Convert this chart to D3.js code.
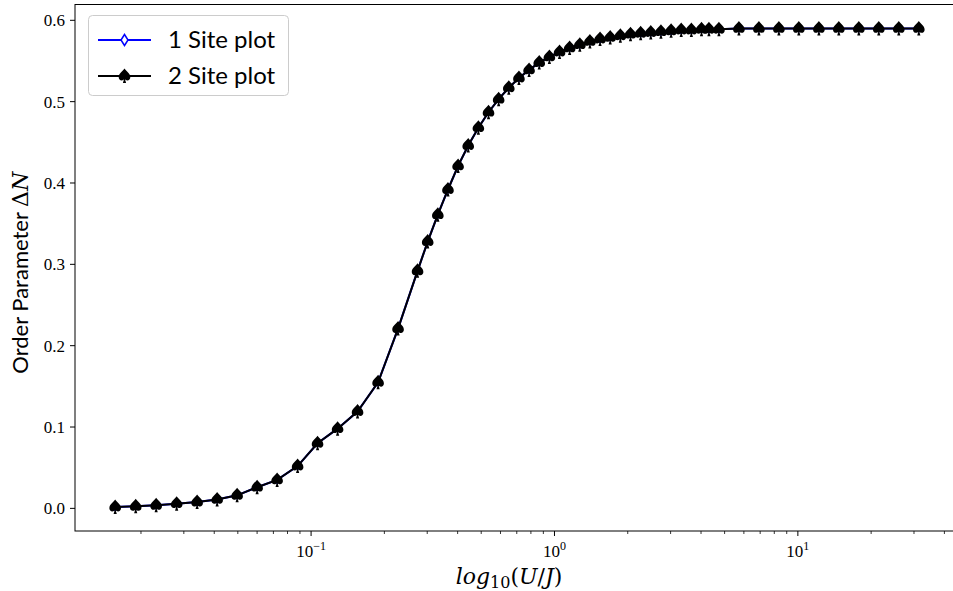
<!DOCTYPE html>
<html>
<head>
<meta charset="utf-8">
<script src="https://cdn.jsdelivr.net/npm/d3@7"></script>
<style>
  body { margin: 0; background: #fff; }
  svg { display: block; }
  .tick-label { font-family: "Liberation Serif", "DejaVu Serif", serif; font-size: 17px; fill: #000; }
  .legend-text { font-family: Lato, "DejaVu Sans", sans-serif; font-size: 24px; fill: #000; }
  .axis-title { font-family: Lato, "DejaVu Sans", sans-serif; font-size: 22px; fill: #000; }
  .math { font-family: "DejaVu Serif", "Liberation Serif", serif; }
</style>
</head>
<body>
<div id="chart"></div>
<script>
'use strict';

// U/J values
const ujValues = [
  0.01567, 0.01903, 0.02309, 0.02803, 0.03402, 0.04111, 0.04967, 0.06002,
  0.07252, 0.08803, 0.1063, 0.1285, 0.1552, 0.1885, 0.2277,
  0.2738, 0.3014, 0.3317, 0.3651, 0.4018, 0.4422, 0.4868, 0.5358,
  0.5897, 0.6491, 0.7145, 0.7864, 0.8657, 0.9530, 1.049, 1.154,
  1.271, 1.398, 1.539, 1.694, 1.865, 2.053, 2.260, 2.487,
  2.738, 3.014, 3.317, 3.651, 4.019, 4.311, 4.738,
  5.725, 6.917, 8.356, 10.09, 12.20, 14.73, 17.80, 21.50, 25.98, 31.40
];

// order parameter, 1 site calculation
const oneSiteValues = [
  0.0016, 0.0025, 0.0037, 0.0058, 0.0077, 0.011, 0.016, 0.026,
  0.035, 0.052, 0.080, 0.098, 0.119, 0.155, 0.221,
  0.292, 0.328, 0.361, 0.392, 0.421, 0.446, 0.468, 0.487,
  0.503, 0.517, 0.529, 0.539, 0.548, 0.555, 0.561, 0.566,
  0.570, 0.574, 0.577, 0.579, 0.581, 0.583, 0.584, 0.585,
  0.586, 0.587, 0.588, 0.588, 0.589, 0.589, 0.589,
  0.590, 0.590, 0.590, 0.590, 0.590, 0.590, 0.590, 0.590, 0.590, 0.590
];

// order parameter, 2 site calculation (lies on top of the 1 site curve)
const twoSiteValues = [
  0.0016, 0.0025, 0.0037, 0.0058, 0.0077, 0.011, 0.016, 0.026,
  0.035, 0.052, 0.080, 0.098, 0.119, 0.155, 0.221,
  0.292, 0.328, 0.361, 0.392, 0.421, 0.446, 0.468, 0.487,
  0.503, 0.517, 0.529, 0.539, 0.548, 0.555, 0.561, 0.566,
  0.570, 0.574, 0.577, 0.579, 0.581, 0.583, 0.584, 0.585,
  0.586, 0.587, 0.588, 0.588, 0.589, 0.589, 0.589,
  0.590, 0.590, 0.590, 0.590, 0.590, 0.590, 0.590, 0.590, 0.590, 0.590
];

const seriesNames = ['1 Site plot', '2 Site plot'];
const seriesColors = ['#0000ff', '#000000'];
const yTickValues = [0.0, 0.1, 0.2, 0.3, 0.4, 0.5, 0.6];
const xTickExponents = [-1, 0, 1];

const svgWidth = 953, svgHeight = 591;
const plot = { left: 75, top: 4.5, right: 959, bottom: 531 };

const svg = d3.select('#chart')
  .append('svg')
    .attr('width', svgWidth)
    .attr('height', svgHeight);

// matplotlib style 5% margins (log space for x)
const logExt = d3.extent(ujValues).map(Math.log10);
const logPad = (logExt[1] - logExt[0]) * 0.05;
const yAll = oneSiteValues.concat(twoSiteValues);
const yExt = d3.extent(yAll);
const yPad = (yExt[1] - yExt[0]) * 0.05;

const x = d3.scaleLog()
  .domain([Math.pow(10, logExt[0] - logPad), Math.pow(10, logExt[1] + logPad)])
  .range([plot.left, plot.right]);
const y = d3.scaleLinear()
  .domain([yExt[0] - yPad, yExt[1] + yPad])
  .range([plot.bottom, plot.top]);

// frame
svg.append('rect')
  .attr('x', plot.left).attr('y', plot.top)
  .attr('width', plot.right - plot.left).attr('height', plot.bottom - plot.top)
  .attr('fill', 'none').attr('stroke', '#000').attr('stroke-width', 1);

// y axis
const yAxis = svg.append('g').attr('transform', `translate(${plot.left},0)`);
yAxis.selectAll('line')
  .data(yTickValues).enter().append('line')
    .attr('x1', -5).attr('x2', 0)
    .attr('y1', d => y(d)).attr('y2', d => y(d))
    .attr('stroke', '#000').attr('stroke-width', 1);
yAxis.selectAll('text')
  .data(yTickValues).enter().append('text')
    .attr('class', 'tick-label')
    .attr('x', -10).attr('y', d => y(d))
    .attr('dy', '0.35em')
    .attr('text-anchor', 'end')
    .text(d => d.toFixed(1));

// x axis, major and minor ticks
const [xMin, xMax] = x.domain();
const minorTicks = [];
for (let e = -2; e <= 1; e++) {
  for (let m = 2; m <= 9; m++) {
    const v = m * Math.pow(10, e);
    if (v > xMin && v < xMax) minorTicks.push(v);
  }
}
const xAxis = svg.append('g').attr('transform', `translate(0,${plot.bottom})`);
xAxis.selectAll('line.minor')
  .data(minorTicks).enter().append('line')
    .attr('class', 'minor')
    .attr('x1', d => x(d)).attr('x2', d => x(d))
    .attr('y1', 0).attr('y2', 3)
    .attr('stroke', '#000').attr('stroke-width', 0.8);
xAxis.selectAll('line.major')
  .data(xTickExponents).enter().append('line')
    .attr('class', 'major')
    .attr('x1', d => x(Math.pow(10, d))).attr('x2', d => x(Math.pow(10, d)))
    .attr('y1', 0).attr('y2', 5)
    .attr('stroke', '#000').attr('stroke-width', 1);
const xLabels = xAxis.selectAll('text')
  .data(xTickExponents).enter().append('text')
    .attr('class', 'tick-label')
    .attr('x', d => x(Math.pow(10, d)))
    .attr('y', 26)
    .attr('text-anchor', 'middle');
xLabels.append('tspan').text('10');
xLabels.append('tspan')
  .attr('dy', -7).attr('font-size', '12px')
  .text(d => d < 0 ? '\u2212' + Math.abs(d) : String(d));

// axis titles
const xTitle = svg.append('text')
  .attr('class', 'axis-title math')
  .attr('x', x(Math.pow(10, (Math.log10(xMin) + Math.log10(xMax)) / 2)) - 8)
  .attr('y', 584)
  .attr('font-size', '24px')
  .attr('text-anchor', 'middle');
xTitle.append('tspan').attr('font-style', 'italic').text('log');
xTitle.append('tspan').attr('font-size', '16px').attr('dy', 4).text('10');
xTitle.append('tspan').attr('dy', -4).text('(');
xTitle.append('tspan').attr('font-style', 'italic').text('U');
xTitle.append('tspan').text('/');
xTitle.append('tspan').attr('font-style', 'italic').text('J');
xTitle.append('tspan').text(')');

const yTitle = svg.append('text')
  .attr('class', 'axis-title')
  .attr('transform', `translate(28,${(plot.top + plot.bottom) / 2 + 5}) rotate(-90)`)
  .attr('text-anchor', 'middle');
yTitle.append('tspan').text('Order Parameter ');
yTitle.append('tspan').attr('class', 'math').text('\u0394');
yTitle.append('tspan').attr('class', 'math').attr('font-style', 'italic').text('N');

// markers
const spadePath = 'M0,-7.5 C1.8,-4.8 5.8,-2.6 5.8,1.2 C5.8,4 3.2,5.2 1,3.8 ' +
  'C0.8,3.7 0.6,3.5 0.5,3.3 L1.6,7 L-1.6,7 L-0.5,3.3 ' +
  'C-0.6,3.5 -0.8,3.7 -1,3.8 C-3.2,5.2 -5.8,4 -5.8,1.2 C-5.8,-2.6 -1.8,-4.8 0,-7.5 Z';
const diamondPath = 'M0,-4.5 L3,0 L0,4 L-3,0 Z';
const legendDiamondPath = 'M0,-5.5 L3.5,0 L0,5.5 L-3.5,0 Z';

const line = d3.line().x(d => x(d[0])).y(d => y(d[1]));
const seriesData = [
  d3.zip(ujValues, oneSiteValues),
  d3.zip(ujValues, twoSiteValues)
];

const plotArea = svg.append('g');

// 1 site: blue line with hollow thin diamonds
plotArea.append('path')
  .datum(seriesData[0])
  .attr('d', line)
  .attr('fill', 'none').attr('stroke', seriesColors[0]).attr('stroke-width', 2);
plotArea.selectAll('path.diamond')
  .data(seriesData[0]).enter().append('path')
    .attr('class', 'diamond')
    .attr('d', diamondPath)
    .attr('transform', d => `translate(${x(d[0])},${y(d[1])})`)
    .attr('fill', '#fff').attr('stroke', seriesColors[0]).attr('stroke-width', 1);

// 2 site: black line with spade markers
plotArea.append('path')
  .datum(seriesData[1])
  .attr('d', line)
  .attr('fill', 'none').attr('stroke', seriesColors[1]).attr('stroke-width', 2);
plotArea.selectAll('path.spade')
  .data(seriesData[1]).enter().append('path')
    .attr('class', 'spade')
    .attr('d', spadePath)
    .attr('transform', d => `translate(${x(d[0])},${y(d[1])})`)
    .attr('fill', seriesColors[1]);

// legend
const legend = svg.append('g').attr('transform', 'translate(88,15)');
legend.append('rect')
  .attr('x', 0.5).attr('y', 0.5).attr('width', 200).attr('height', 80)
  .attr('rx', 4).attr('ry', 4)
  .attr('fill', '#fff').attr('fill-opacity', 0.8)
  .attr('stroke', '#cccccc').attr('stroke-width', 1);
const rows = legend.selectAll('g.row')
  .data(seriesNames).enter().append('g')
    .attr('class', 'row')
    .attr('transform', (d, i) => `translate(0,${25 + i * 36})`);
rows.append('line')
  .attr('x1', 10).attr('x2', 63).attr('y1', 0).attr('y2', 0)
  .attr('stroke', (d, i) => seriesColors[i]).attr('stroke-width', 2);
rows.append('path')
  .attr('d', (d, i) => i === 0 ? legendDiamondPath : spadePath)
  .attr('transform', 'translate(36.5,0)')
  .attr('fill', (d, i) => i === 0 ? '#fff' : seriesColors[1])
  .attr('stroke', (d, i) => i === 0 ? seriesColors[0] : 'none')
  .attr('stroke-width', 1.5);
rows.append('text')
  .attr('class', 'legend-text')
  .attr('x', 80).attr('y', 0).attr('dy', '0.35em')
  .text(d => d);
</script>
</body>
</html>
